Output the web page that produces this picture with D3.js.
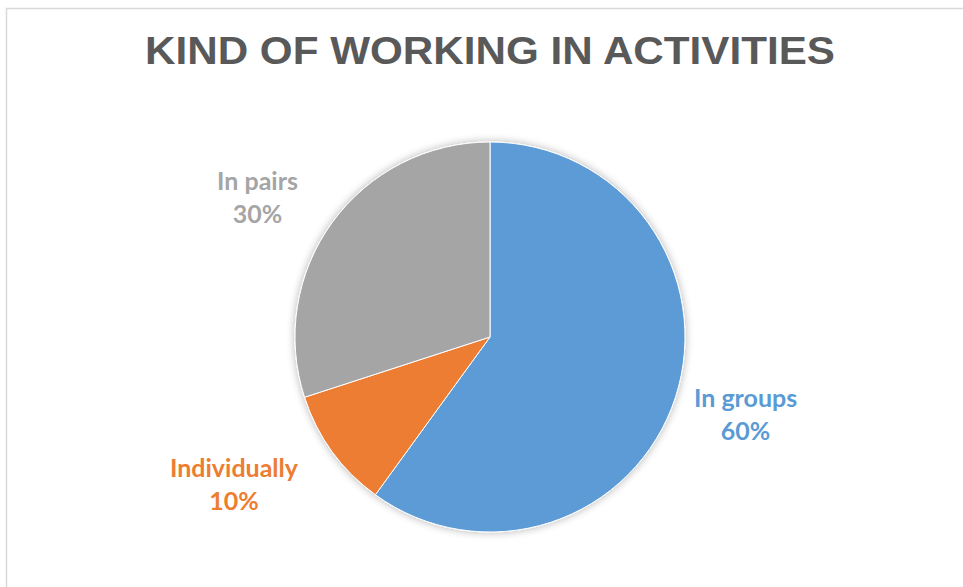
<!DOCTYPE html>
<html>
<head>
<meta charset="utf-8">
<script src="https://cdn.jsdelivr.net/npm/d3@7"></script>
<style>
  body { margin: 0; background: #fff; }
  svg { display: block; }
</style>
</head>
<body>
<div id="chart"></div>
<script>
const title = 'KIND OF WORKING IN ACTIVITIES'
const categories = ['In groups', 'Individually', 'In pairs']
const values = [60, 10, 30]
const colors = ['#5B9BD5', '#ED7D31', '#A5A5A5']

const width = 963, height = 587
const cx = 490, cy = 337, radius = 195

const svg = d3.select('#chart').append('svg')
    .attr('width', width)
    .attr('height', height)

// chart area border (right/bottom run off the page)
svg.append('rect')
    .attr('x', 6.5).attr('y', 8.5)
    .attr('width', width + 20).attr('height', height + 20)
    .attr('fill', '#fff')
    .attr('stroke', '#d9d9d9')
    .attr('stroke-width', 1.5)

svg.append('text')
    .attr('x', cx).attr('y', 64)
    .attr('text-anchor', 'middle')
    .attr('textLength', 690)
    .attr('lengthAdjust', 'spacingAndGlyphs')
    .style('font-family', '"Liberation Sans", Arial, sans-serif')
    .style('font-weight', 'bold')
    .style('font-size', '38px')
    .style('fill', '#595959')
    .text(title)

// soft shadow like the office chart
let defs = svg.append('defs')
let shadow = defs.append('filter').attr('id', 'shadow')
    .attr('x', '-20%').attr('y', '-20%').attr('width', '140%').attr('height', '140%')
shadow.append('feGaussianBlur').attr('in', 'SourceAlpha').attr('stdDeviation', 4)
shadow.append('feOffset').attr('dx', 0).attr('dy', 0).attr('result', 'blur')
shadow.append('feComponentTransfer').append('feFuncA').attr('type', 'linear').attr('slope', 0.3)
let merge = shadow.append('feMerge')
merge.append('feMergeNode')
merge.append('feMergeNode').attr('in', 'SourceGraphic')

const data = categories.map((c, i) => ({ name: c, value: values[i], color: colors[i] }))
const pie = d3.pie().value(d => d.value).sort(null)
const arcs = pie(data)
const arc = d3.arc().innerRadius(0).outerRadius(radius)

const g = svg.append('g').attr('transform', `translate(${cx},${cy})`)

g.append('g').attr('filter', 'url(#shadow)')
    .selectAll('path')
    .data(arcs)
    .join('path')
    .attr('d', arc)
    .attr('fill', d => d.data.color)
    .attr('stroke', '#fff')
    .attr('stroke-width', 1)

// labels outside end
const labelR = radius + 30
const boxH = 55
arcs.forEach(function (d) {
    let mid = (d.startAngle + d.endAngle) / 2
    let dx = Math.sin(mid), dy = -Math.cos(mid)
    let pct = Math.round(d.value / d3.sum(values) * 100) + '%'

    let t = g.append('text')
        .attr('text-anchor', 'middle')
        .style('font-family', 'Lato, "Noto Sans", sans-serif')
        .style('font-weight', 'bold')
        .style('font-size', '25px')
        .style('fill', d.data.color)
    t.append('tspan').text(d.data.name)
    let w = t.node().getComputedTextLength()

    let x = dx * labelR + Math.sign(dx) * w / 2 - 10
    let y = dy * labelR + dy * (dy > 0 ? boxH / 2 : boxH / 5)
    t.select('tspan').attr('x', x).attr('y', y - 8)
    t.append('tspan').attr('x', x).attr('y', y + 25).text(pct)
})
</script>
</body>
</html>
